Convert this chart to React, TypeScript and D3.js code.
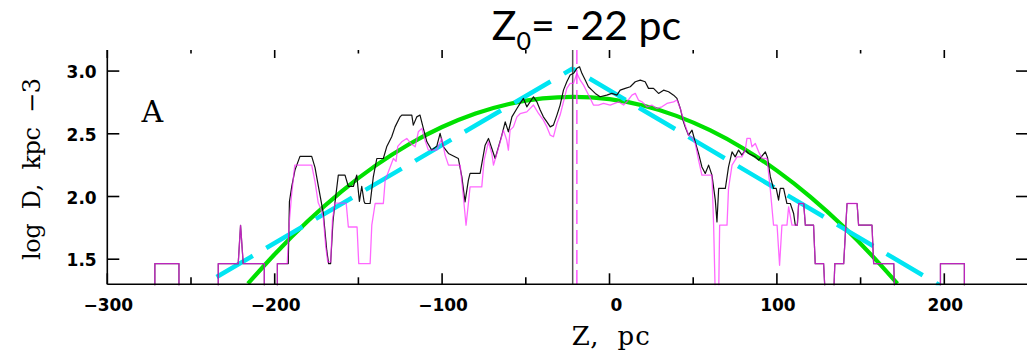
import React from "react";
import * as d3 from "d3";

const W = 1027;
const H = 354;

// Axis ticks
const xMajorTicks = [-300, -200, -100, 0, 100, 200];
const xMajorLabels = ["\u2212300", "\u2212200", "\u2212100", "0", "100", "200"];
const xMinorTicks = [-250, -150, -50, 50, 150];
const yTicks = [1.5, 2.0, 2.5, 3.0];
const yTickLabels = ["1.5", "2.0", "2.5", "3.0"];

// Observed profile (black) : [Z pc, log D]
const blackProfile: [number, number][] = [
  [-275, 1.2], [-271.6, 1.2], [-271.6, 1.465], [-257.2, 1.465], [-257.2, 1.2],
  [-233.7, 1.2], [-233.7, 1.465], [-221.8, 1.465], [-220.4, 1.77], [-218.8, 1.465], [-206.2, 1.465], [-206.2, 1.2],
  [-198.4, 1.2], [-198.4, 1.465], [-191.9, 1.465], [-191.2, 1.96], [-189.8, 2.08], [-187.9, 2.21], [-184.9, 2.32],
  [-177.9, 2.32], [-175.9, 2.23], [-173.9, 2.08], [-171.0, 1.87], [-168.9, 1.57], [-167.8, 1.465], [-166.6, 1.465],
  [-165.2, 1.8], [-164.0, 1.95], [-162.0, 2.17], [-158.0, 2.17], [-156.0, 2.08], [-153.0, 2.08], [-151.0, 2.17],
  [-149.4, 1.96], [-148.0, 2.08], [-146.6, 1.96], [-146.0, 1.944], [-143.0, 1.944], [-141.1, 2.156], [-139.0, 2.303],
  [-135.1, 2.303], [-133.1, 2.396], [-130.1, 2.476], [-128.1, 2.555], [-125.1, 2.635], [-124.1, 2.649], [-118.1, 2.649],
  [-117.2, 2.569], [-115.1, 2.635], [-113.2, 2.649], [-111.2, 2.543], [-109.1, 2.436], [-106.2, 2.37], [-103.2, 2.4],
  [-101.2, 2.503], [-99.2, 2.396], [-96.2, 2.343], [-90.3, 2.303], [-88.2, 2.156], [-86.3, 1.957], [-84.3, 2.13],
  [-83.3, 2.184], [-77.3, 2.184], [-74.3, 2.409], [-72.3, 2.463], [-70.3, 2.383], [-68.3, 2.303], [-66.3, 2.396],
  [-64.3, 2.489], [-62.3, 2.595], [-60.4, 2.516], [-58.3, 2.635], [-55.3, 2.702], [-53.4, 2.742], [-51.4, 2.782],
  [-49.4, 2.715], [-45.4, 2.795], [-43.4, 2.755], [-41.4, 2.689], [-39.5, 2.635], [-37.4, 2.595], [-35.4, 2.555],
  [-33.5, 2.569], [-31.4, 2.649], [-29.5, 2.729], [-27.5, 2.848], [-25.5, 2.915], [-23.5, 2.968], [-21.5, 2.982],
  [-19.5, 3.022], [-17.9, 3.034], [-16.5, 2.982], [-14.5, 2.928], [-12.6, 2.875], [-10.5, 2.848], [-8.5, 2.822],
  [-5.6, 2.795], [-1.6, 2.808], [1.4, 2.822], [4.4, 2.808], [6.4, 2.848], [9.4, 2.862], [12.4, 2.875], [15.4, 2.915],
  [18.4, 2.928], [21.3, 2.915], [23.3, 2.862], [26.3, 2.862], [29.3, 2.822], [32.3, 2.848], [35.3, 2.835], [38.3, 2.808],
  [40.3, 2.782], [42.3, 2.702], [44.2, 2.595], [45.2, 2.555], [47.2, 2.489], [49.3, 2.529], [51.2, 2.436], [53.2, 2.343],
  [55.2, 2.236], [57.2, 2.184], [59.2, 2.25], [61.2, 2.17], [63.2, 1.971], [64.2, 1.797], [65.2, 2.064], [69.2, 2.064],
  [71.1, 2.236], [73.2, 2.356], [75.1, 2.316], [77.1, 2.37], [79.1, 2.33], [81.1, 2.37], [83.1, 2.343], [87.1, 2.316],
  [89.1, 2.29], [93.1, 2.356], [94.4, 2.31], [96.1, 2.156], [98.0, 2.064], [99.6, 2.064], [101.0, 1.971], [102.0, 2.064],
  [104.0, 2.064], [106.0, 1.944], [108.0, 1.944], [110.0, 1.864], [111.0, 1.771], [112.2, 1.771], [113.0, 1.944],
  [116.0, 1.944], [117.0, 1.771], [121.9, 1.771], [122.9, 1.465], [127.9, 1.465], [128.9, 1.2], [133.9, 1.2],
  [134.6, 1.465], [139.9, 1.465], [141.9, 1.944], [147.9, 1.944], [148.8, 1.771], [156.8, 1.771], [157.8, 1.465],
  [169.8, 1.465], [170.4, 1.2], [197.7, 1.2], [197.7, 1.465], [212, 1.465], [212, 1.2], [220, 1.2],
];

// Second profile (magenta) : [Z pc, log D]
const magentaProfile: [number, number][] = [
  [-275, 1.2], [-271.6, 1.2], [-271.6, 1.465], [-257.2, 1.465], [-257.2, 1.2],
  [-233.7, 1.2], [-233.7, 1.465], [-221.8, 1.465], [-220.4, 1.77], [-218.8, 1.465], [-206.2, 1.465], [-206.2, 1.2],
  [-198.4, 1.2], [-198.4, 1.465], [-192.5, 1.465], [-191.5, 1.757], [-190, 2.0], [-188, 2.25], [-177.9, 2.25],
  [-175.9, 2.117], [-174, 1.95], [-172.9, 1.917], [-171, 1.837], [-169.5, 1.6], [-168.3, 1.478], [-166.5, 1.478],
  [-165.5, 1.811], [-164.0, 1.947], [-157.3, 1.947], [-156.0, 1.757], [-150.8, 1.757], [-149.8, 1.465], [-143.0, 1.465],
  [-142.0, 1.771], [-140.0, 1.944], [-135.1, 1.944], [-134.0, 2.13], [-129.1, 2.303], [-127.5, 2.28], [-126.5, 2.4],
  [-124.1, 2.436], [-121.1, 2.463], [-118.5, 2.42], [-116.1, 2.396], [-114.2, 2.516], [-112.1, 2.543], [-110.2, 2.449],
  [-108.2, 2.37], [-103.2, 2.37], [-100.2, 2.463], [-98.2, 2.33], [-96.2, 2.25], [-89.2, 2.25], [-87.3, 2.0],
  [-85.7, 1.771], [-84.3, 1.944], [-83.3, 2.077], [-76.3, 2.077], [-74.9, 2.29], [-72.3, 2.436], [-70.3, 2.343],
  [-69.3, 2.25], [-67.3, 2.343], [-65.3, 2.436], [-63.4, 2.529], [-61.4, 2.45], [-60.4, 2.37], [-59.4, 2.529],
  [-57.4, 2.555], [-55.3, 2.635], [-53.4, 2.66], [-49.4, 2.675], [-45.4, 2.729], [-42.4, 2.662], [-39.5, 2.609],
  [-37.4, 2.555], [-35.4, 2.489], [-33.5, 2.476], [-31.4, 2.583], [-29.5, 2.649], [-27.5, 2.755], [-25.5, 2.862],
  [-23.5, 2.902], [-21.5, 2.902], [-19.5, 2.982], [-17.5, 2.928], [-15.5, 2.888], [-13.5, 2.835], [-11.5, 2.782],
  [-9.6, 2.729], [-6.6, 2.729], [-3.6, 2.742], [0.4, 2.729], [5.4, 2.755], [8.4, 2.729], [10.4, 2.755], [13.4, 2.808],
  [15.4, 2.822], [17.3, 2.769], [19.4, 2.755], [22.4, 2.715], [25.3, 2.729], [28.3, 2.702], [31.3, 2.715], [34.3, 2.742],
  [38.3, 2.755], [40.3, 2.769], [42.3, 2.702], [44.2, 2.609], [47.2, 2.489], [49.3, 2.47], [51.2, 2.423], [53.2, 2.29],
  [55.2, 2.17], [61.2, 2.17], [62.2, 1.771], [63.2, 1.2], [65.2, 1.2], [65.8, 1.771], [70.2, 1.771], [71.1, 2.064],
  [73.2, 2.25], [76.2, 2.316], [79.1, 2.316], [81.1, 2.37], [82.1, 2.463], [84.1, 2.463], [85.1, 2.396], [87.1, 2.423],
  [89.1, 2.356], [91.1, 2.303], [94.1, 2.303], [96.1, 2.05], [98.0, 1.771], [100.1, 1.771], [101.6, 1.452],
  [103.0, 1.771], [106.0, 1.771], [107.0, 1.917], [109.0, 1.771], [112.2, 1.771], [113.0, 1.944], [116.0, 1.944],
  [117.0, 1.771], [121.9, 1.771], [122.9, 1.465], [127.9, 1.465], [128.9, 1.2], [133.9, 1.2], [134.6, 1.465],
  [139.9, 1.465], [141.9, 1.944], [147.9, 1.944], [148.8, 1.771], [156.8, 1.771], [157.8, 1.465], [169.8, 1.465],
  [170.4, 1.2], [197.7, 1.2], [197.7, 1.465], [212, 1.465], [212, 1.2], [220, 1.2],
];

// Smooth fit (green) : [Z pc, log D]
const greenFit: [number, number][] = [
  [-216, 1.305], [-200, 1.54], [-180, 1.806], [-160, 2.041], [-140, 2.244], [-120, 2.415], [-100, 2.554],
  [-80, 2.662], [-60, 2.738], [-40, 2.782], [-22, 2.795], [0, 2.776], [20, 2.725], [40, 2.643], [60, 2.529],
  [80, 2.383], [100, 2.206], [120, 1.997], [140, 1.756], [160, 1.483], [172, 1.305],
];

// Exponential fit (cyan dashed), left and right branches
const cyanLeft: [number, number][] = [[-234.7, 1.358], [-22, 3.02]];
const cyanRight: [number, number][] = [[-22, 3.02], [197.6, 1.29]];

const z0 = -22; // vertical solid line
const zMagentaMark = -19.5; // vertical dashed line

const left = 107.3;
const right = 1028;
const top = 50;
const bottom = 284.3;

export default function App() {
  const x = d3.scaleLinear().domain([-300, 250]).range([left, right]);
  const y = d3.scaleLinear().domain([1.3, 3.168]).range([bottom, top]);

  const stepLine = d3
    .line<[number, number]>()
    .x((d) => x(d[0]))
    .y((d) => y(d[1]));
  const smoothLine = d3
    .line<[number, number]>()
    .x((d) => x(d[0]))
    .y((d) => y(d[1]))
    .curve(d3.curveMonotoneX);

  const tickFont = "'DejaVu Sans', sans-serif";
  const serif = "'DejaVu Serif', serif";

  return (
    <svg
      width={W}
      height={H}
      viewBox={`0 0 ${W} ${H}`}
      style={{ position: "absolute", left: 0, top: 0, display: "block", background: "#fff" }}
    >
      <defs>
        <clipPath id="plotClip">
          <rect x={left} y={top} width={right - left} height={bottom - top + 1} />
        </clipPath>
      </defs>

      {/* Title */}
      <text x={491.7} y={40} fontFamily="Lato, 'Open Sans', sans-serif" fontSize={41} fill="#000">
        Z
        <tspan fontSize={25} dy={10}>0</tspan>
        <tspan dy={-10}>= -22 pc</tspan>
      </text>

      <g clipPath="url(#plotClip)">
        {/* Fits */}
        <path d={smoothLine(greenFit) || ""} fill="none" stroke="#00e000" strokeWidth={4.2} />
        <path
          d={stepLine(cyanLeft) || ""}
          fill="none"
          stroke="#00e5f2"
          strokeWidth={4.5}
          strokeDasharray="42 15.5"
        />
        <path
          d={stepLine(cyanRight) || ""}
          fill="none"
          stroke="#00e5f2"
          strokeWidth={4.5}
          strokeDasharray="42 15.5"
          strokeDashoffset={38}
        />

        {/* vertical markers */}
        <line x1={x(z0)} x2={x(z0)} y1={top} y2={bottom} stroke="#555" strokeWidth={1.5} />
        <line
          x1={x(zMagentaMark)}
          x2={x(zMagentaMark)}
          y1={top}
          y2={bottom}
          stroke="#ff55ff"
          strokeWidth={1.5}
          strokeDasharray="14 6"
        />

        {/* Profiles */}
        <path d={stepLine(blackProfile) || ""} fill="none" stroke="#111" strokeWidth={1.2} strokeLinejoin="round" />
        <path
          d={stepLine(magentaProfile) || ""}
          fill="none"
          stroke="#ff2cff"
          strokeOpacity={0.72}
          strokeWidth={1.3}
          strokeLinejoin="round"
        />
      </g>

      {/* Axes */}
      <line x1={left} x2={left} y1={top} y2={bottom} stroke="#000" strokeWidth={1.6} />
      <line x1={left} x2={W} y1={bottom} y2={bottom} stroke="#000" strokeWidth={1.6} />

      {xMajorTicks.map((t, i) => (
        <g key={"xm" + t}>
          <line x1={x(t)} x2={x(t)} y1={bottom} y2={bottom - 11} stroke="#000" strokeWidth={1.6} />
          <line x1={x(t)} x2={x(t)} y1={top} y2={top + 8} stroke="#000" strokeWidth={1.6} />
          <text
            x={x(t) + (t === 0 ? 7 : 1)}
            y={310.5}
            textAnchor="middle"
            fontFamily={tickFont}
            fontWeight="bold"
            fontSize={17}
            fill="#000"
          >
            {xMajorLabels[i]}
          </text>
        </g>
      ))}
      {xMinorTicks.map((t) => (
        <g key={"xn" + t}>
          <line x1={x(t)} x2={x(t)} y1={bottom} y2={bottom - 7} stroke="#000" strokeWidth={1.6} />
          <line x1={x(t)} x2={x(t)} y1={top} y2={top + 3.5} stroke="#000" strokeWidth={1.6} />
        </g>
      ))}
      {yTicks.map((t, i) => (
        <g key={"y" + t}>
          <line x1={left} x2={left + 12} y1={y(t)} y2={y(t)} stroke="#000" strokeWidth={1.6} />
          <line x1={right} x2={right - 12} y1={y(t)} y2={y(t)} stroke="#000" strokeWidth={1.6} />
          <text
            x={96.7}
            y={y(t) + 7}
            textAnchor="end"
            fontFamily={tickFont}
            fontWeight="bold"
            fontSize={17}
            fill="#000"
          >
            {yTickLabels[i]}
          </text>
        </g>
      ))}

      {/* Panel letter */}
      <text x={141.5} y={121.7} fontFamily={serif} fontSize={30} fill="#000">
        A
      </text>

      {/* Axis titles */}
      <text
        x={571.7}
        y={345}
        fontFamily={serif}
        fontSize={26}
        fill="#000"
        textLength={78}
        style={{ whiteSpace: "pre" }}
      >
        {"Z,  pc"}
      </text>
      <text
        transform="translate(40,260) rotate(-90)"
        x={0}
        y={0}
        fontFamily={serif}
        fontSize={24}
        fill="#000"
        textLength={182}
        style={{ whiteSpace: "pre" }}
      >
        {"log  D,  kpc  \u22123"}
      </text>
    </svg>
  );
}
